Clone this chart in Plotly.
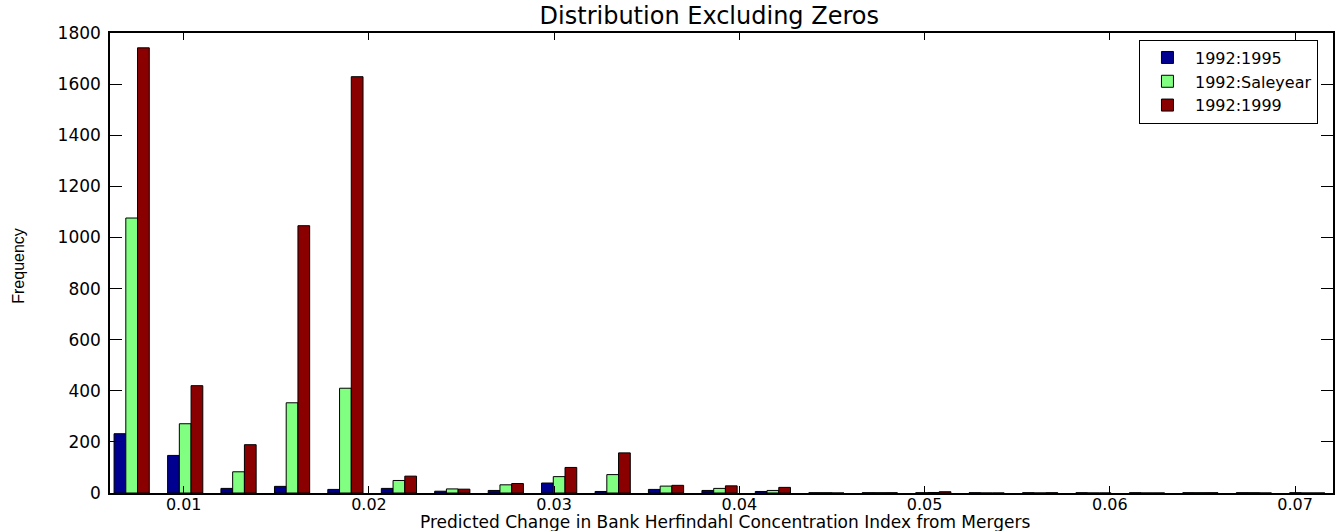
import plotly.graph_objects as go

bin_centers = [0.00719, 0.01008, 0.01296, 0.01585, 0.01873, 0.02162, 0.02450, 0.02739,
               0.03027, 0.03316, 0.03604, 0.03893, 0.04181, 0.04470, 0.04758, 0.05047,
               0.05335, 0.05624, 0.05912, 0.06201, 0.06489, 0.06778, 0.07066]
freq_1995 = [232, 147, 18, 26, 14, 18, 7, 10, 39, 6, 14, 10, 6, 1, 1, 1, 1, 1, 1, 1, 1, 1, 1]
freq_saleyear = [1076, 271, 83, 353, 410, 49, 16, 32, 64, 72, 27, 18, 10, 1, 1, 2, 0, 0, 0, 0, 1, 1, 0]
freq_1999 = [1742, 420, 189, 1046, 1629, 66, 15, 37, 100, 157, 30, 28, 22, 0, 1, 5, 0, 1, 0, 0, 1, 0, 0]
series_names = ["1992:1995", "1992:Saleyear", "1992:1999"]
x_ticks = [0.01, 0.02, 0.03, 0.04, 0.05, 0.06, 0.07]
x_tick_labels = ["0.01", "0.02", "0.03", "0.04", "0.05", "0.06", "0.07"]
y_ticks = [0, 200, 400, 600, 800, 1000, 1200, 1400, 1600, 1800]

colors = ["#000090", "#80ff80", "#8a0000"]
FONT = "DejaVu Sans, Liberation Sans, sans-serif"

fig = go.Figure()
for name, vals, col in zip(series_names, [freq_1995, freq_saleyear, freq_1999], colors):
    fig.add_trace(go.Bar(
        x=bin_centers, y=vals, name=name,
        marker=dict(color=col, line=dict(color="black", width=1)),
    ))

axis_font = dict(family=FONT, size=17, color="black")

fig.update_layout(
    width=1337, height=531,
    margin=dict(l=110, r=4, t=33, b=38),
    paper_bgcolor="white", plot_bgcolor="white",
    barmode="group", bargap=0.34, bargroupgap=0,
    title=dict(text="Distribution Excluding Zeros", x=0.49, xref="paper",
               y=1 - 16 / 531, yref="container", yanchor="middle", xanchor="center",
               font=dict(family=FONT, size=24, color="black")),
    legend=dict(x=0.9877, y=0.9857, xanchor="right", yanchor="top",
                bgcolor="white", bordercolor="black", borderwidth=1,
                font=dict(family=FONT, size=16, color="black"),
                tracegroupgap=0, itemwidth=45),
    font=axis_font,
    annotations=[
        dict(text="Predicted Change in Bank Herfindahl Concentration Index from Mergers",
             x=0.503, y=-0.0625, xref="paper", yref="paper", xanchor="center", yanchor="middle",
             showarrow=False, font=dict(family=FONT, size=17, color="black")),
        dict(text="Frequency", x=-0.0748, y=0.493, xref="paper", yref="paper",
             xanchor="center", yanchor="middle", textangle=-90, showarrow=False,
             font=dict(family="Liberation Sans Narrow, Liberation Sans, sans-serif", size=16, color="black")),
    ],
)

fig.update_xaxes(
    range=[0.00602, 0.07205], tickvals=x_ticks, ticktext=x_tick_labels,
    ticks="inside", ticklen=7, tickcolor="black", tickwidth=1,
    showline=True, linecolor="black", linewidth=1.5, mirror="ticks",
    showgrid=False, zeroline=False, tickfont=dict(family=FONT, size=16, color="black"),
    ticklabelstandoff=-4,
    automargin=False,
)
fig.update_yaxes(
    range=[0, 1800], tickvals=y_ticks,
    ticks="inside", ticklen=12, tickcolor="black", tickwidth=1,
    showline=True, linecolor="black", linewidth=1.5, mirror="ticks",
    showgrid=False, zeroline=False, tickfont=axis_font, ticklabelstandoff=4,
    automargin=False,
)

fig.write_html("out.html", config={"displayModeBar": False},
               post_script="document.body.style.margin='0';document.body.style.overflow='hidden';")
